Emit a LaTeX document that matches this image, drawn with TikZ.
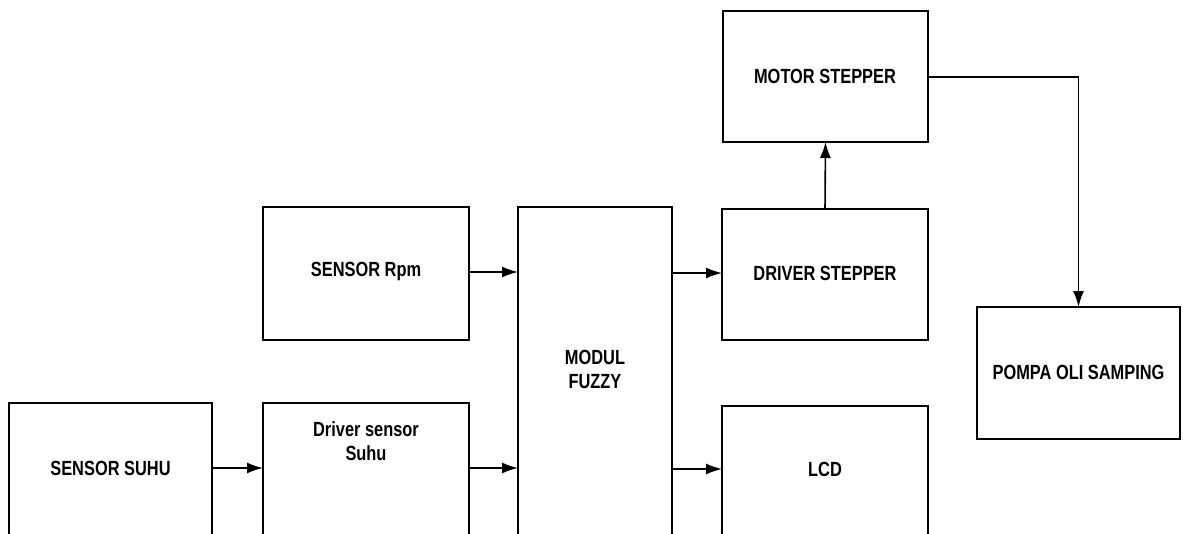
\documentclass[tikz,border=0pt]{standalone}
\usepackage{fontspec}
\setmainfont{Liberation Sans}[FakeStretch=0.8]
\usetikzlibrary{arrows.meta,calc}
\begin{document}
\begin{tikzpicture}[x=1pt,y=1pt,
  box/.style={draw, line width=1.8pt, anchor=north west, inner sep=0, outer sep=0},
  lbl/.style={font=\fontsize{20.5}{24}\selectfont\bfseries, align=center, inner sep=0},
  arr/.style={-{Latex[length=16pt,width=11pt]}, line width=1.6pt}]
\useasboundingbox (0,0) rectangle (1183,-533);
\clip (0,0) rectangle (1183,-533);
% boxes
\node[box, minimum width=203, minimum height=145] (suhu) at (9,-403) {};
\node[box, minimum width=206, minimum height=145] (drvs) at (263,-403) {};
\node[box, minimum width=206, minimum height=133] (rpm) at (263,-207) {};
\node[box, minimum width=154, minimum height=341] (fuzzy) at (518,-207) {};
\node[box, minimum width=206, minimum height=131] (drst) at (722,-209) {};
\node[box, minimum width=206, minimum height=142] (lcd) at (722,-406) {};
\node[box, minimum width=205, minimum height=131] (motor) at (723,-11) {};
\node[box, minimum width=203, minimum height=132] (pompa) at (977,-307) {};
% labels
\node[lbl] (tsuhu) at (110.5,-468) {SENSOR SUHU};
\node[lbl] (tdrvs) at (366,-441) {Driver sensor\\Suhu};
\node[lbl] (trpm) at (366,-271) {SENSOR Rpm};
\node[lbl] (tfuzzy) at (595,-369) {MODUL\\FUZZY};
\node[lbl] (tdrst) at (825,-273) {DRIVER STEPPER};
\node[lbl] (tlcd) at (825,-469) {LCD};
\node[lbl] (tmotor) at (825,-76) {MOTOR STEPPER};
\node[lbl] (tpompa) at (1078.5,-372) {POMPA OLI SAMPING};
% helper levels
\coordinate (ya) at (0,-468);
\coordinate (yb) at (0,-272);
\coordinate (yc) at (0,-273);
\coordinate (yd) at (0,-469);
\coordinate (ye) at (0,-77);
% connectors
\draw[arr] (suhu.east |- ya) -- (drvs.west |- ya);
\draw[arr] (drvs.east |- ya) -- (fuzzy.west |- ya);
\draw[arr] (rpm.east |- yb) -- (fuzzy.west |- yb);
\draw[arr] (fuzzy.east |- yc) -- (drst.west |- yc);
\draw[arr] (fuzzy.east |- yd) -- (lcd.west |- yd);
\draw[arr] (drst.north) -- (motor.south);
\draw[arr] (motor.east |- ye) -| (pompa.north);
\end{tikzpicture}
\end{document}
